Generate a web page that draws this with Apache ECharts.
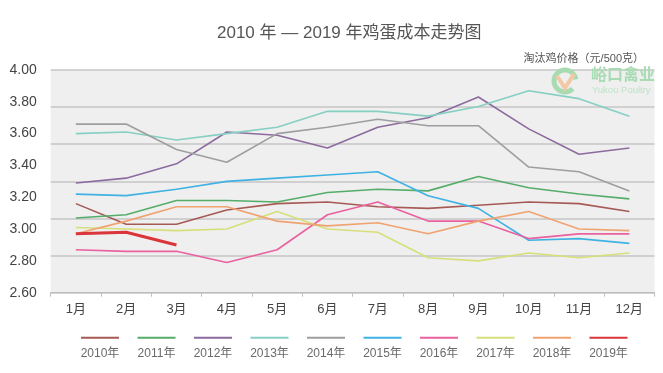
<!DOCTYPE html>
<html>
<head>
<meta charset="utf-8">
<script src="https://cdn.jsdelivr.net/npm/echarts@6/dist/echarts.min.js"></script>
<style>html,body{margin:0;padding:0;background:#fff;}#c{width:663px;height:373px;}</style>
</head>
<body>
<div id="c"></div>
<script>
const months = ['1月','2月','3月','4月','5月','6月','7月','8月','9月','10月','11月','12月'];
const years = ['2010年','2011年','2012年','2013年','2014年','2015年','2016年','2017年','2018年','2019年'];
const yMin = 2.6, yMax = 4.0, yStep = 0.2;
const s2010 = [3.16,3.03,3.03,3.12,3.16,3.17,3.14,3.13,3.15,3.17,3.16,3.11];
const s2011 = [3.07,3.09,3.18,3.18,3.17,3.23,3.25,3.24,3.33,3.26,3.22,3.19];
const s2012 = [3.29,3.32,3.41,3.61,3.59,3.51,3.64,3.70,3.83,3.63,3.47,3.51];
const s2013 = [3.60,3.61,3.56,3.60,3.64,3.74,3.74,3.71,3.77,3.87,3.82,3.71];
const s2014 = [3.66,3.66,3.50,3.42,3.60,3.64,3.69,3.65,3.65,3.39,3.36,3.24];
const s2015 = [3.22,3.21,3.25,3.30,3.32,3.34,3.36,3.21,3.13,2.93,2.94,2.91];
const s2016 = [2.87,2.86,2.86,2.79,2.87,3.09,3.17,3.05,3.05,2.94,2.97,2.97];
const s2017 = [3.01,3.00,2.99,3.00,3.11,3.00,2.98,2.82,2.80,2.85,2.82,2.85];
const s2018 = [2.97,3.05,3.14,3.14,3.05,3.02,3.04,2.97,3.05,3.11,3.00,2.99];
const s2019 = [2.97,2.98,2.90];
const seriesData = [s2010,s2011,s2012,s2013,s2014,s2015,s2016,s2017,s2018,s2019];
const colors = ['#a65a55','#55ad69','#8c6a9e','#86cfc3','#9e9e9e','#3fb2e3','#e9619f','#d6e07a','#f0a370','#d9353b'];
const widths = [1.6,1.6,1.6,1.6,1.6,1.6,1.6,1.6,1.6,3];

const FONT = "'Liberation Sans','Noto Sans CJK SC',sans-serif";
const rich = { t: { width: 50, align: 'center', fontSize: 12, color: '#6a6a6a', lineHeight: 30, fontFamily: FONT } };
years.forEach((y, i) => { rich['l' + i] = { width: 38, height: 2, lineHeight: 2, align: 'center', backgroundColor: colors[i] }; });

const chart = echarts.init(document.getElementById('c'), null, { renderer: 'canvas' });
chart.setOption({
  animation: false,
  color: colors,
  textStyle: { fontFamily: FONT },
  title: [
    { text: '2010 年 — 2019 年鸡蛋成本走势图', left: 212, top: 20,
      textStyle: { fontSize: 17, fontWeight: 'normal', color: '#555', fontFamily: FONT } },
    { text: '淘汰鸡价格（元/500克）', right: 14, top: 48,
      textStyle: { fontSize: 11, fontWeight: 'normal', color: '#555', fontFamily: FONT } }
  ],
  grid: { left: 50.7, right: 8.5, top: 70, bottom: 80.3, show: true, backgroundColor: '#efefef', borderWidth: 0 },
  legend: {
    data: years, left: 70, top: 331.8, padding: 0, itemGap: 1.5,
    itemWidth: 0, itemHeight: 0, icon: 'rect', selectedMode: false,
    formatter: name => '{l' + years.indexOf(name) + '|}\n{t|' + name + '}',
    textStyle: { rich: rich }
  },
  xAxis: {
    type: 'category', data: months, boundaryGap: true,
    axisLine: { lineStyle: { color: '#bdbdbd', width: 1 } },
    axisTick: { show: true, length: 4, lineStyle: { color: '#bdbdbd' } },
    axisLabel: { color: '#444', fontSize: 13, margin: 10, fontFamily: FONT }
  },
  yAxis: [
    { type: 'value', min: yMin, max: yMax, interval: yStep,
      axisLine: { show: false }, axisTick: { show: false }, splitLine: { show: false },
      axisLabel: { color: '#444', fontSize: 14, margin: 14, formatter: v => v.toFixed(2), fontFamily: FONT } },
    { type: 'value', min: 0, max: 6, interval: 1,
      axisLine: { show: false }, axisTick: { show: false }, axisLabel: { show: false },
      splitLine: { show: true, lineStyle: { color: '#c6c6c6', width: 1.5 } } }
  ],
  series: years.map((y, i) => ({
    name: y, type: 'line', data: seriesData[i], yAxisIndex: 0,
    showSymbol: false, symbol: 'none', smooth: false,
    lineStyle: { color: colors[i], width: widths[i] }, z: 2 + i
  })),
  graphic: [
    { type: 'arc', shape: { cx: 565, cy: 81, r: 11, startAngle: Math.PI * 0.25, endAngle: Math.PI * 1.95 },
      style: { stroke: '#a9dbb3', lineWidth: 5, fill: null }, z: 1 },
    { type: 'polyline', shape: { points: [[557, 76], [565, 88], [574, 74]] },
      style: { stroke: '#f2c9a4', lineWidth: 4, fill: null }, z: 1 },
    { type: 'text', left: 591, top: 68, z: 1,
      style: { text: '峪口禽业', fontSize: 16, fontWeight: 'bold', fill: '#a9dbb3', fontFamily: FONT } },
    { type: 'text', left: 592, top: 86, z: 1,
      style: { text: 'Yukou Poultry', fontSize: 9.5, fill: '#bfe3c6', fontFamily: FONT } }
  ]
});
</script>
</body>
</html>
